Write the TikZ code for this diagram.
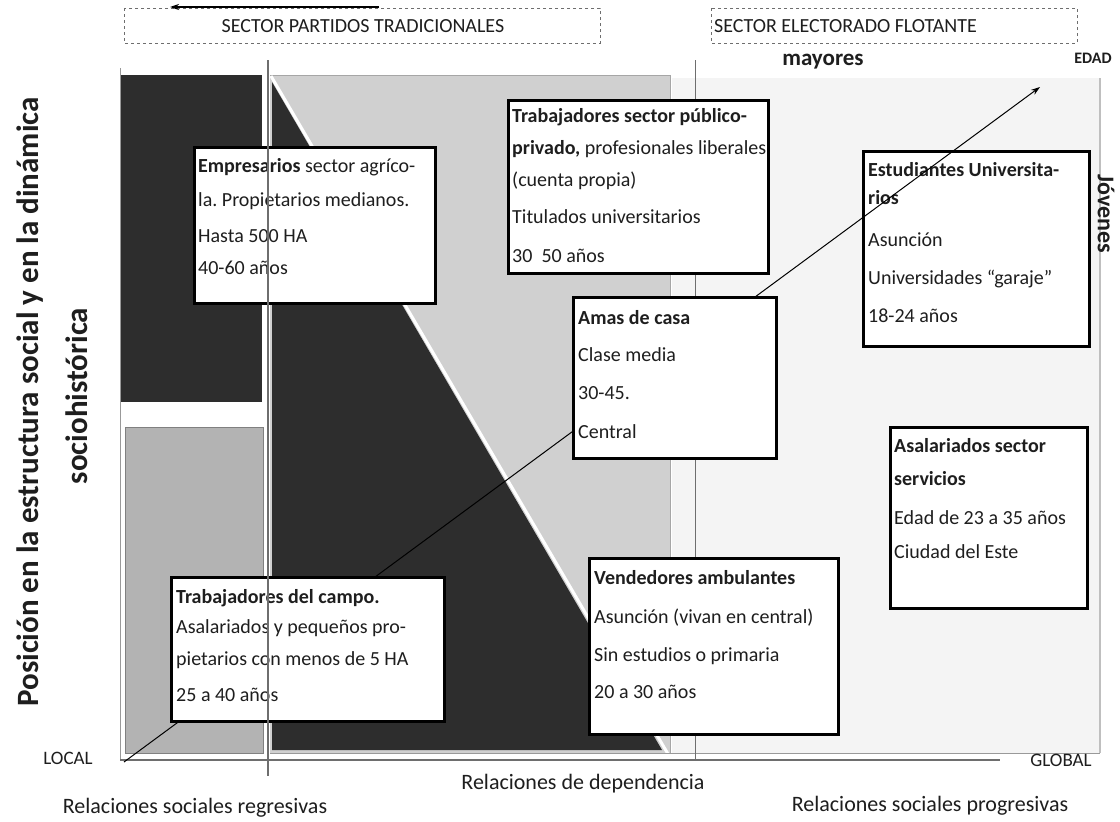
\documentclass[tikz,border=0pt]{standalone}
\usepackage{fontspec}
\setmainfont{Carlito}
\usetikzlibrary{arrows.meta}
\frenchspacing
\definecolor{darkfill}{HTML}{2D2D2D}
\definecolor{lightfill}{HTML}{D0D0D0}
\definecolor{midfill}{HTML}{B3B3B3}
\definecolor{palefill}{HTML}{F4F4F4}
\definecolor{rulegray}{HTML}{6E6E6E}
\definecolor{txt}{HTML}{1E1E1E}
\newcommand{\fl}{\rule{0pt}{17pt}}
\tikzset{
  boxframe/.style={draw=black, line width=3pt, fill=white, anchor=north west, inner sep=0pt},
  boxtext/.style={anchor=north west, align=left, inner sep=0pt, text=txt,
    font=\fontsize{20}{31}\selectfont},
  sectorbox/.style={draw=rulegray, dashed, line width=1pt},
  sectortext/.style={text=txt, font=\fontsize{20}{24}\selectfont, inner sep=0pt},
  axislabel/.style={text=txt, font=\fontsize{22}{26}\selectfont, inner sep=0pt},
  endlabel/.style={text=txt, font=\fontsize{19}{22}\selectfont, inner sep=0pt},
  ylabel/.style={text=txt, font=\bfseries\fontsize{31}{36}\selectfont, inner sep=0pt, rotate=90},
  thinrule/.style={draw=rulegray, line width=1.2pt},
}
\begin{document}
\begin{tikzpicture}[x=1pt,y=-1pt]
\useasboundingbox[fill=white] (0,0) rectangle (1120,822);

% regions
\fill[palefill] (672,78) rectangle (1100,753);
\draw[draw=black!25, line width=1.5pt] (1100,78) -- (1100,753);
\fill[lightfill] (270,75) rectangle (670,753);
\draw[draw=black!35, line width=0.8pt] (270,75) -- (670,75) -- (670,753);
\fill[darkfill] (272,82) -- (662,750) -- (272,750) -- cycle;
\draw[white, line width=3pt] (271,76) -- (668,754);
\fill[darkfill] (120,75) rectangle (262,402);
\filldraw[fill=midfill, draw=black!50, line width=1pt] (125,427) rectangle (263,753);
\draw[draw=black!40, line width=1pt] (120,68) -- (120,760);
\draw[draw=black!40, line width=1pt] (270,753) -- (1100,753);
\draw[thinrule] (120,760) -- (1000,760);
\draw[thinrule, line width=1pt] (695,60) -- (695,760);

% boxes behind the arrow
\node[boxframe, minimum width=241pt, minimum height=156pt] (emp) at (193,146) {};
\node[boxtext] (empT) at (198,155) {\fl\textbf{Empresarios} sector agríco-\\[3pt]la. Propietarios medianos.\\[5pt]Hasta 500 HA\\[1pt]40-60 años};

\node[boxframe, minimum width=260pt, minimum height=173pt] (pub) at (507,99) {};
\node[boxtext] (pubT) at (512,105) {\fl\textbf{Trabajadores sector público-}\\[1pt]\textbf{privado,} profesionales liberales\\[1pt](cuenta propia)\\[6pt]Titulados universitarios\\[8pt]30~~50 años};

\node[boxframe, minimum width=249pt, minimum height=176pt] (vend) at (588,557) {};
\node[boxtext] (vendT) at (594,567) {\fl\textbf{Vendedores ambulantes}\\[8pt]Asunción (vivan en central)\\[7pt]Sin estudios o primaria\\[6pt]20 a 30 años};

\node[boxframe, minimum width=197pt, minimum height=181pt] (asal) at (889,426) {};
\node[boxtext] (asalT) at (894,435) {\fl\textbf{Asalariados sector}\\[2pt]\textbf{servicios}\\[8pt]Edad de 23 a 35 años\\[3pt]Ciudad del Este};

\node[boxframe, minimum width=226pt, minimum height=195pt] (est) at (862,150) {};
\node[boxtext] (estT) at (868,159) {\fl\textbf{Estudiantes Universita-}\\[-3pt]\textbf{rios}\\[11pt]Asunción\\[7pt]Universidades “garaje”\\[7pt]18-24 años};

% age arrow
\coordinate (origin) at (124,762);
\coordinate (edadtip) at (1040,87);
\draw[line width=1pt, -{Stealth[length=9pt,width=6pt]}] (origin) -- (edadtip);

% boxes over the arrow
\node[boxframe, minimum width=203pt, minimum height=161pt] (amas) at (572,296) {};
\node[boxtext] (amasT) at (578,307) {\fl\textbf{Amas de casa}\\[6pt]Clase media\\[7pt]30-45.\\[8pt]Central};

\node[boxframe, minimum width=273pt, minimum height=144pt] (campo) at (170,576) {};
\node[boxtext] (campoT) at (176,586) {\fl\textbf{Trabajadores del campo.}\\[-1pt]Asalariados y pequeños pro-\\[1pt]pietarios con menos de 5 HA\\[5pt]25 a 40 años};

% vertical divider over boxes
\draw[thinrule, line width=1.2pt] (268,60) -- (268,776);

% sector boxes
\draw[sectorbox] (124,8) rectangle (600,43);
\node[sectortext] (sectorA) at (363,26) {SECTOR PARTIDOS TRADICIONALES};
\coordinate (trA) at (379,7);
\coordinate (trB) at (170,7);
\draw[line width=1.2pt, -{Stealth[length=9pt,width=6pt]}] (trA) -- (trB);
\draw[sectorbox] (711,8) rectangle (1077,43);
\node[sectortext, anchor=west] (sectorB) at (714,26) {SECTOR ELECTORADO FLOTANTE};

% labels
\node[text=txt, font=\bfseries\fontsize{23}{26}\selectfont, inner sep=0pt] (mayores) at (823,62) {mayores};
\node[text=txt, font=\bfseries\fontsize{16}{18}\selectfont, inner sep=0pt] (edad) at (1093,58) {EDAD};
\node[text=txt, font=\bfseries\fontsize{24}{28}\selectfont, inner sep=0pt, rotate=-90] (jovenes) at (1106,214) {Jóvenes};
\node[ylabel] (ylab1) at (30,402) {Posición en la estructura social y en la dinámica};
\node[ylabel] (ylab2) at (77,396) {sociohistórica};
\node[endlabel] (local) at (68,758) {LOCAL};
\node[endlabel] (global) at (1061,760) {GLOBAL};
\node[axislabel] (dep) at (583,784) {Relaciones de dependencia};
\node[axislabel] (regr) at (195,808) {Relaciones sociales regresivas};
\node[axislabel] (progr) at (930,806) {Relaciones sociales progresivas};
\end{tikzpicture}
\end{document}
